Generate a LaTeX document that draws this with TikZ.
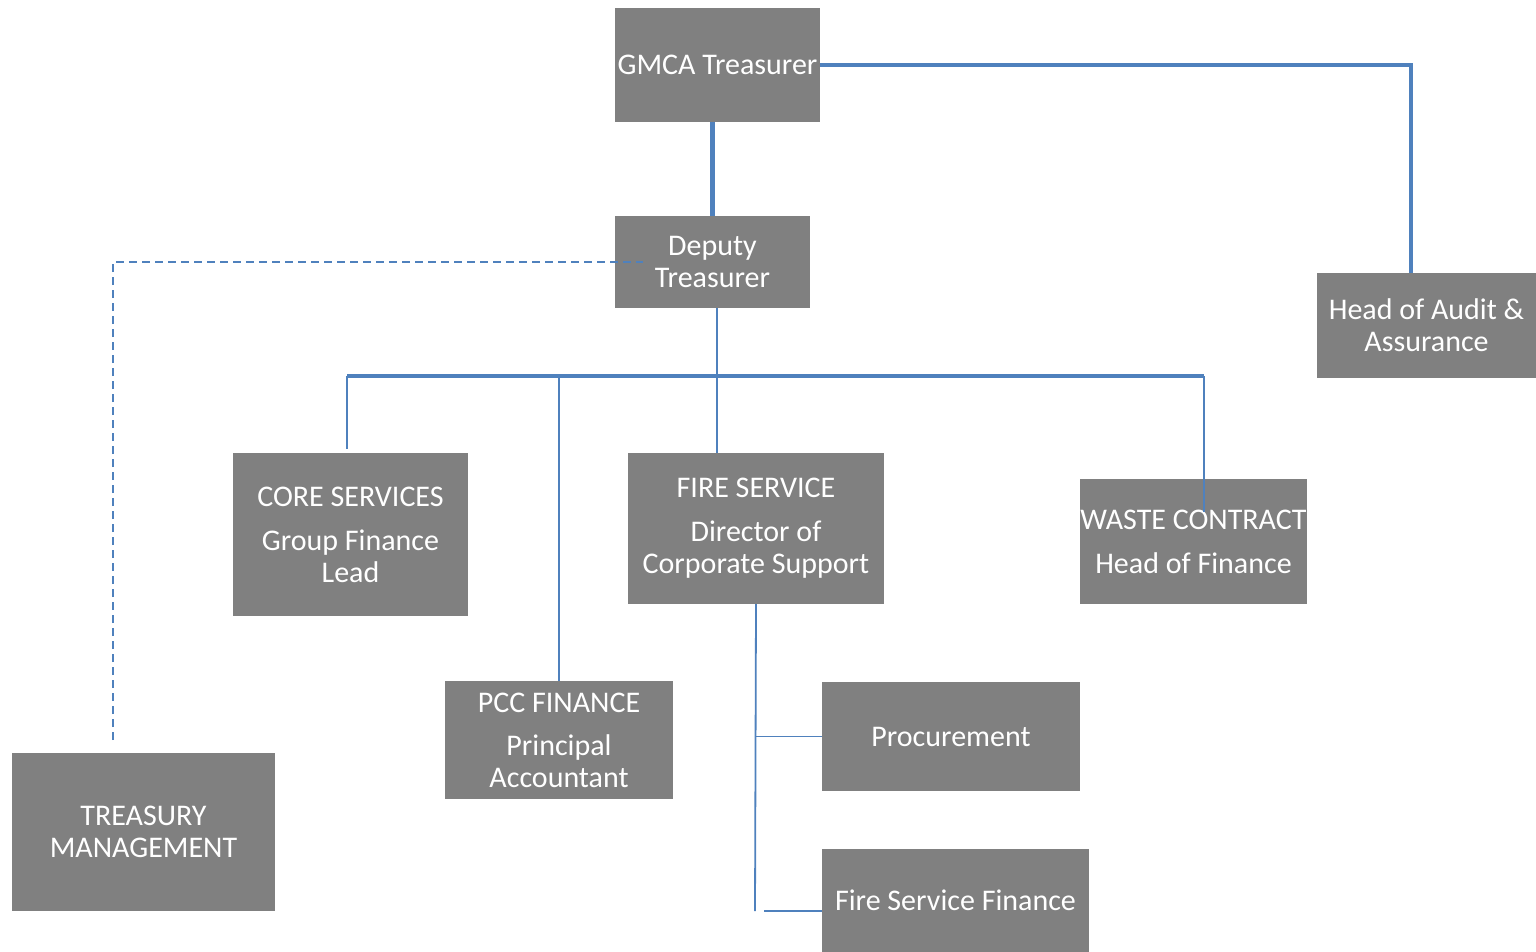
\documentclass[tikz,border=0pt]{standalone}
\usepackage{fontspec}
\setmainfont{Carlito}
\usepackage{xcolor}
\usepackage{tikz}
\definecolor{boxgray}{HTML}{808080}
\definecolor{linkblue}{HTML}{4F81BD}

\begin{document}
\begin{tikzpicture}[x=1pt,y=-1pt,
  box/.style={fill=boxgray, text=white, align=center, inner sep=0pt, font=\fontsize{30}{32}\selectfont},
  link/.style={linkblue, line width=1.8pt},
  barlink/.style={linkblue, line width=3.2pt},
  mainlink/.style={linkblue, line width=4.5pt}]
\useasboundingbox (0,0) rectangle (1536,952);

\node[box, minimum width=205, minimum height=114] (gmca) at (717.5,65) {GMCA Treasurer};
\node[box, minimum width=195, minimum height=92] (deputy) at (712.5,262) {Deputy\\Treasurer};
\node[box, minimum width=219, minimum height=105] (audit) at (1426.5,325.5) {Head of Audit \&\\Assurance};
\node[box, minimum width=235, minimum height=163] (core) at (350.5,534.5) {CORE SERVICES\\[12pt]Group Finance\\Lead};
\node[box, minimum width=256, minimum height=151] (fire) at (756,528.5) {FIRE SERVICE\\[12pt]Director of\\Corporate Support};
\node[box, minimum width=225, minimum height=125] (waste) at (1193.5,541.5) {WASTE CONTRACT\\[12pt]Head of Finance};
\node[box, minimum width=228, minimum height=118] (pcc) at (559,740) {PCC FINANCE\\[11pt]Principal\\Accountant};
\node[box, minimum width=263, minimum height=158] (treasury) at (143.5,832) {TREASURY\\MANAGEMENT};
\node[box, minimum width=258, minimum height=109] (proc) at (951,736.5) {Procurement};
\node[box, minimum width=267, minimum height=103] (ffin) at (955.5,900.5) {Fire Service Finance};

\coordinate (auditTop) at (1411,273);
\coordinate (hub) at (717,376);
\coordinate (barL) at (347,376);
\coordinate (barR) at (1204,376);
\coordinate (wasteEnd) at (1204,512);
\coordinate (dashEnd) at (113,740);
\coordinate (ffinStub) at (764,911);
\coordinate (fireEnd) at (755,911);

\draw [mainlink] (gmca.east) -| (auditTop);
\draw [mainlink] (deputy.north) -- (deputy.north |- gmca.south);
\draw [link] (hub |- deputy.south) -- (hub |- fire.north);
\draw [barlink] (barL) -- (barR);
\draw [link] (barL) -- ([yshift=4]barL |- core.north);
\draw [link] (pcc.north |- barL) -- (pcc.north);
\draw [link] (barR) -- (wasteEnd);
\draw [link, dash pattern=on 8pt off 5pt] (dashEnd) |- ([xshift=28]deputy.west);
\draw [link] (fire.south) -- (fireEnd);
\draw [link] (fire.south |- proc.west) -- (proc.west);
\draw [link] (ffinStub) -- (ffinStub -| ffin.west);
\end{tikzpicture}
\end{document}
